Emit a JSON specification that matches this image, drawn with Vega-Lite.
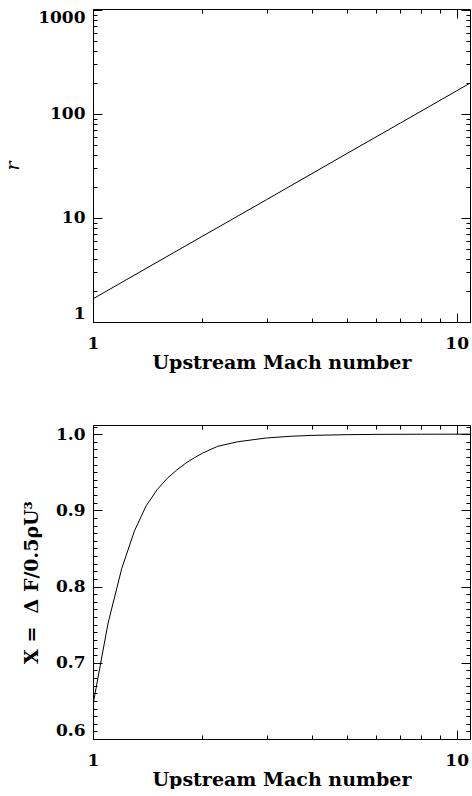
{
  "$schema": "https://vega.github.io/schema/vega-lite/v6.json",
  "background": "white",
  "padding": {"left": 3, "top": 8, "right": 2, "bottom": 0},
  "spacing": 52,
  "config": {
    "view": {"stroke": null},
    "axis": {
      "grid": false,
      "domainColor": "black",
      "domainWidth": 1,
      "tickColor": "black",
      "tickWidth": 1,
      "labelColor": "black",
      "titleColor": "black",
      "labelFont": "DejaVu Serif",
      "titleFont": "DejaVu Serif",
      "labelFontSize": 17,
      "labelFontWeight": "bold",
      "titleFontSize": 19,
      "titleFontWeight": "bold",
      "labelFlush": false,
      "labelOverlap": false,
      "labelBound": false
    }
  },
  "vconcat": [
    {
      "width": 377,
      "height": 313,
      "data": {
        "values": [
          {"mach": 1.0, "r": 1.67},
          {"mach": 1.5, "r": 3.76},
          {"mach": 2.0, "r": 6.68},
          {"mach": 3.0, "r": 15.0},
          {"mach": 5.0, "r": 41.8},
          {"mach": 7.0, "r": 81.8},
          {"mach": 10.0, "r": 167},
          {"mach": 10.88, "r": 198}
        ]
      },
      "layer": [
        {
          "mark": {"type": "line", "color": "black", "strokeWidth": 1, "clip": true},
          "encoding": {
            "x": {
              "field": "mach", "type": "quantitative",
              "scale": {"type": "log", "domain": [1, 10.88], "nice": false},
              "axis": {
                "orient": "bottom",
                "title": "Upstream Mach number",
                "values": [1, 10],
                "format": "d",
                "tickSize": -9,
                "labelPadding": 22,
                "titlePadding": 2
              }
            },
            "y": {
              "field": "r", "type": "quantitative",
              "scale": {"type": "log", "domain": [1, 1022], "nice": false},
              "axis": {
                "orient": "left",
                "title": "r",
                "titleFontStyle": "italic",
                "titleFontWeight": "normal",
                "values": [1, 10, 100, 1000],
                "format": "d",
                "labelFlush": 3,
                "tickSize": -9,
                "labelPadding": 17,
                "titlePadding": 15
              }
            }
          }
        },
        {
          "mark": {"type": "line", "opacity": 0},
          "encoding": {
            "x": {
              "field": "mach", "type": "quantitative",
              "axis": {"orient": "top", "title": null, "labels": false, "values": [1, 10], "tickSize": -9}
            },
            "y": {
              "field": "r", "type": "quantitative",
              "axis": {"orient": "right", "title": null, "labels": false, "values": [1, 10, 100, 1000], "tickSize": -9}
            }
          }
        },
        {
          "mark": {"type": "line", "opacity": 0},
          "encoding": {
            "x": {
              "field": "mach", "type": "quantitative",
              "axis": {"orient": "bottom", "title": null, "labels": false, "domain": false, "values": [2, 3, 4, 5, 6, 7, 8, 9], "tickSize": -4}
            },
            "y": {
              "field": "r", "type": "quantitative",
              "axis": {"orient": "left", "title": null, "labels": false, "domain": false, "values": [2, 3, 4, 5, 6, 7, 8, 9, 20, 30, 40, 50, 60, 70, 80, 90, 200, 300, 400, 500, 600, 700, 800, 900], "tickSize": -4}
            }
          }
        },
        {
          "mark": {"type": "line", "opacity": 0},
          "encoding": {
            "x": {
              "field": "mach", "type": "quantitative",
              "axis": {"orient": "top", "title": null, "labels": false, "domain": false, "values": [2, 3, 4, 5, 6, 7, 8, 9], "tickSize": -4}
            },
            "y": {
              "field": "r", "type": "quantitative",
              "axis": {"orient": "right", "title": null, "labels": false, "domain": false, "values": [2, 3, 4, 5, 6, 7, 8, 9, 20, 30, 40, 50, 60, 70, 80, 90, 200, 300, 400, 500, 600, 700, 800, 900], "tickSize": -4}
            }
          }
        }
      ],
      "resolve": {"axis": {"x": "independent", "y": "independent"}}
    },
    {
      "width": 377,
      "height": 314,
      "data": {
        "values": [
          {"mach": 1.0, "x": 0.645},
          {"mach": 1.1, "x": 0.752},
          {"mach": 1.2, "x": 0.824},
          {"mach": 1.3, "x": 0.873},
          {"mach": 1.4, "x": 0.906},
          {"mach": 1.5, "x": 0.927},
          {"mach": 1.6, "x": 0.942},
          {"mach": 1.7, "x": 0.953},
          {"mach": 1.8, "x": 0.962},
          {"mach": 1.9, "x": 0.969},
          {"mach": 2.0, "x": 0.975},
          {"mach": 2.2, "x": 0.984},
          {"mach": 2.5, "x": 0.990},
          {"mach": 3.0, "x": 0.995},
          {"mach": 3.5, "x": 0.9972},
          {"mach": 4.0, "x": 0.9984},
          {"mach": 5.0, "x": 0.9993},
          {"mach": 6.0, "x": 0.9997},
          {"mach": 8.0, "x": 0.9999},
          {"mach": 10.88, "x": 1.0}
        ]
      },
      "layer": [
        {
          "mark": {"type": "line", "color": "black", "strokeWidth": 1, "clip": true},
          "encoding": {
            "x": {
              "field": "mach", "type": "quantitative",
              "scale": {"type": "log", "domain": [1, 10.88], "nice": false},
              "axis": {
                "orient": "bottom",
                "title": "Upstream Mach number",
                "values": [1, 10],
                "format": "d",
                "tickSize": -9,
                "labelPadding": 22,
                "titlePadding": 2
              }
            },
            "y": {
              "field": "x", "type": "quantitative",
              "scale": {"domain": [0.6, 1.012], "nice": false, "zero": false},
              "axis": {
                "orient": "left",
                "title": "X =\u00a0\u00a0Δ F/0.5ρU³",
                "values": [0.6, 0.7, 0.8, 0.9, 1.0],
                "format": ".1f",
                "labelFlush": 3,
                "tickSize": -9,
                "labelPadding": 17,
                "titlePadding": 14
              }
            }
          }
        },
        {
          "mark": {"type": "line", "opacity": 0},
          "encoding": {
            "x": {
              "field": "mach", "type": "quantitative",
              "axis": {"orient": "top", "title": null, "labels": false, "values": [1, 10], "tickSize": -9}
            },
            "y": {
              "field": "x", "type": "quantitative",
              "axis": {"orient": "right", "title": null, "labels": false, "values": [0.6, 0.7, 0.8, 0.9, 1.0], "tickSize": -9}
            }
          }
        },
        {
          "mark": {"type": "line", "opacity": 0},
          "encoding": {
            "x": {
              "field": "mach", "type": "quantitative",
              "axis": {"orient": "bottom", "title": null, "labels": false, "domain": false, "values": [2, 3, 4, 5, 6, 7, 8, 9], "tickSize": -4}
            },
            "y": {
              "field": "x", "type": "quantitative",
              "axis": {"orient": "left", "title": null, "labels": false, "domain": false, "values": [0.61, 0.62, 0.63, 0.64, 0.65, 0.66, 0.67, 0.68, 0.69, 0.71, 0.72, 0.73, 0.74, 0.75, 0.76, 0.77, 0.78, 0.79, 0.81, 0.82, 0.83, 0.84, 0.85, 0.86, 0.87, 0.88, 0.89, 0.91, 0.92, 0.93, 0.94, 0.95, 0.96, 0.97, 0.98, 0.99, 1.01], "tickSize": -4}
            }
          }
        },
        {
          "mark": {"type": "line", "opacity": 0},
          "encoding": {
            "x": {
              "field": "mach", "type": "quantitative",
              "axis": {"orient": "top", "title": null, "labels": false, "domain": false, "values": [2, 3, 4, 5, 6, 7, 8, 9], "tickSize": -4}
            },
            "y": {
              "field": "x", "type": "quantitative",
              "axis": {"orient": "right", "title": null, "labels": false, "domain": false, "values": [0.61, 0.62, 0.63, 0.64, 0.65, 0.66, 0.67, 0.68, 0.69, 0.71, 0.72, 0.73, 0.74, 0.75, 0.76, 0.77, 0.78, 0.79, 0.81, 0.82, 0.83, 0.84, 0.85, 0.86, 0.87, 0.88, 0.89, 0.91, 0.92, 0.93, 0.94, 0.95, 0.96, 0.97, 0.98, 0.99, 1.01], "tickSize": -4}
            }
          }
        }
      ],
      "resolve": {"axis": {"x": "independent", "y": "independent"}}
    }
  ]
}
